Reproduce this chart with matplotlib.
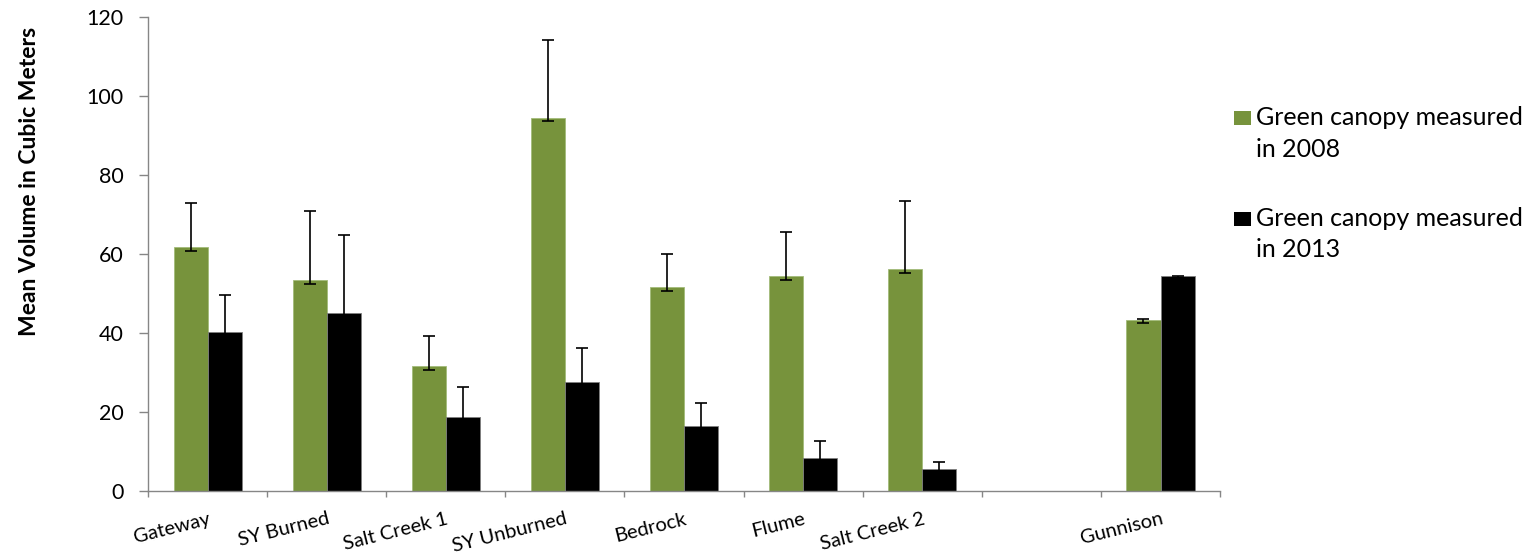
import numpy as np
import matplotlib
matplotlib.use("Agg")
import matplotlib.pyplot as plt
from matplotlib.patches import Patch, Rectangle
from matplotlib.legend_handler import HandlerPatch

plt.rcParams['font.family'] = ['Lato', 'DejaVu Sans']

# Sites (one empty slot separates Gunnison from the rest)
sites = ["Gateway", "SY Burned", "Salt Creek 1", "SY Unburned", "Bedrock",
         "Flume", "Salt Creek 2", "", "Gunnison"]

# Mean green canopy volume (m^3) and upper error
vol_2008 = [61.7, 53.4, 31.6, 94.5, 51.6, 54.3, 56.1, np.nan, 43.3]
err_2008 = [11.2, 17.6, 7.5, 19.7, 8.3, 11.2, 17.3, np.nan, 0.3]
vol_2013 = [40.3, 45.1, 18.6, 27.5, 16.3, 8.2, 5.4, np.nan, 54.3]
err_2013 = [9.4, 19.8, 7.8, 8.6, 6.0, 4.4, 1.8, np.nan, 0.1]
err_low = [0.9, 0.9, 0.9, 0.9, 0.9, 0.9, 0.9, np.nan, 0.9]

y_ticks = [0, 20, 40, 60, 80, 100, 120]

GREEN = "#77933c"
BLACK = "#000000"
AXIS_GRAY = "#868686"

fig = plt.figure(figsize=(15.37, 5.57), dpi=100)
ax = fig.add_axes([0.0963, 0.119, 0.6975, 0.850])

x = np.arange(len(sites))
w = 0.2857

ekw = dict(ecolor="black", elinewidth=1.2, capsize=4.5, capthick=1.2)
ax.bar(x - w / 2, vol_2008, w, color=GREEN, edgecolor="#a3bb7a", linewidth=0.6,
       yerr=[err_low, err_2008], error_kw=ekw, zorder=2)
ax.bar(x + w / 2, vol_2013, w, color=BLACK, edgecolor="#7f7f7f", linewidth=0.6,
       yerr=[err_low, err_2013], error_kw=ekw, zorder=2)

ax.set_xlim(-0.5, len(sites) - 0.5)
ax.set_ylim(0, 120)
ax.set_yticks(y_ticks)
ax.tick_params(axis="y", labelsize=15.5, length=6.5, width=1, color=AXIS_GRAY, pad=11)

# Category boundaries carry the tick marks, labels sit at the centres
ax.set_xticks(np.arange(-0.5, len(sites)), labels=[""] * (len(sites) + 1))
ax.tick_params(axis="x", which="major", length=4, width=1, color=AXIS_GRAY)
ax.set_xticks(x, labels=sites, minor=True)
ax.tick_params(axis="x", which="minor", length=0, pad=14, labelsize=14.5)
for lab in ax.get_xticklabels(minor=True):
    lab.set_rotation(14)
    lab.set_rotation_mode("anchor")
    lab.set_ha("right")
    lab.set_va("top")

for side in ("top", "right"):
    ax.spines[side].set_visible(False)
for side in ("left", "bottom"):
    ax.spines[side].set_color(AXIS_GRAY)
    ax.spines[side].set_linewidth(1)

ax.set_ylabel("Mean Volume in Cubic Meters", fontsize=16.5, fontweight="bold")
ax.yaxis.set_label_coords(-0.1005, 0.653)


def top_square(legend, orig_handle, xdescent, ydescent, width, height, fontsize):
    # keep the square level with the first line of a two-line label
    return Rectangle((-xdescent, -ydescent + 0.64 * fontsize), width, height)


handles = [Patch(facecolor=GREEN), Patch(facecolor=BLACK)]
labels = ["Green canopy measured\nin 2008", "Green canopy measured\nin 2013"]
leg = fig.legend(handles, labels, loc="upper left", bbox_to_anchor=(0.7964, 0.827),
                 frameon=False, fontsize=18, handlelength=0.68, handleheight=0.52,
                 handletextpad=0.2, labelspacing=1.85, borderaxespad=0,
                 handler_map={Patch: HandlerPatch(patch_func=top_square)})
for t in leg.get_texts():
    t.set_linespacing(1.44)

fig.savefig("out.png", dpi=100)
